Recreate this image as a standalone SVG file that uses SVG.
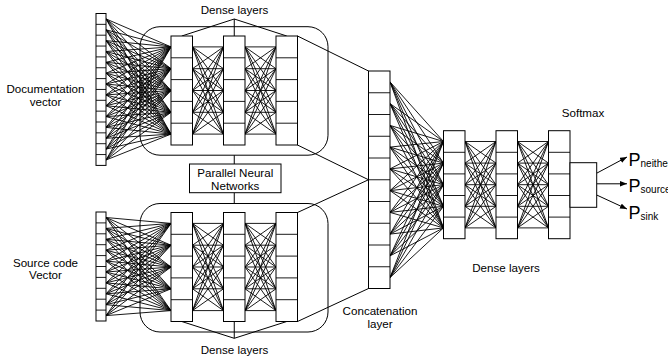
<svg xmlns="http://www.w3.org/2000/svg" xmlns:xlink="http://www.w3.org/1999/xlink" width="668" height="360" viewBox="0 0 668 360">
<style>
text{font-family:"Liberation Sans",Arial,sans-serif;font-size:11.6px;fill:#000}
.lbl{text-anchor:middle}
.ln{fill:none;stroke:#000;stroke-width:0.9}
.box{fill:#fff;stroke:#000;stroke-width:1}
.grp{fill:none;stroke:#000;stroke-width:1}
.P{font-size:18px}
.sub{font-size:10px}
</style>
<defs>
<marker id="arr" markerUnits="userSpaceOnUse" markerWidth="7" markerHeight="6" refX="7" refY="3" orient="auto">
<path d="M0 0.3L7 3L0 5.7z" fill="#000"/>
</marker>
<path id="mesh" class="ln" d="M0 0L31 0M0 0L31 21.8M0 0L31 43.6M0 0L31 65.4M0 0L31 87.2M0 21.8L31 0M0 21.8L31 21.8M0 21.8L31 43.6M0 21.8L31 65.4M0 21.8L31 87.2M0 43.6L31 0M0 43.6L31 21.8M0 43.6L31 43.6M0 43.6L31 65.4M0 43.6L31 87.2M0 65.4L31 0M0 65.4L31 21.8M0 65.4L31 43.6M0 65.4L31 65.4M0 65.4L31 87.2M0 87.2L31 0M0 87.2L31 21.8M0 87.2L31 43.6M0 87.2L31 65.4M0 87.2L31 87.2"/>
<g id="col">
<rect class="box" x="0" y="0" width="21.5" height="109"/>
<path class="ln" d="M0 21.8H21.5M0 43.6H21.5M0 65.4H21.5M0 87.2H21.5"/>
</g>
<g id="colR">
<rect class="box" x="0" y="0" width="21.5" height="108"/>
<path class="ln" d="M0 21.6H21.5M0 43.2H21.5M0 64.8H21.5M0 86.4H21.5"/>
</g>
</defs>

<g id="connectors">
<path class="ln" d="M106 18.9L171 46.9M106 18.9L171 68.7M106 18.9L171 90.5M106 18.9L171 112.3M106 18.9L171 134.1M106 29.8L171 46.9M106 29.8L171 68.7M106 29.8L171 90.5M106 29.8L171 112.3M106 29.8L171 134.1M106 40.6L171 46.9M106 40.6L171 68.7M106 40.6L171 90.5M106 40.6L171 112.3M106 40.6L171 134.1M106 51.5L171 46.9M106 51.5L171 68.7M106 51.5L171 90.5M106 51.5L171 112.3M106 51.5L171 134.1M106 62.3L171 46.9M106 62.3L171 68.7M106 62.3L171 90.5M106 62.3L171 112.3M106 62.3L171 134.1M106 73.2L171 46.9M106 73.2L171 68.7M106 73.2L171 90.5M106 73.2L171 112.3M106 73.2L171 134.1M106 84L171 46.9M106 84L171 68.7M106 84L171 90.5M106 84L171 112.3M106 84L171 134.1M106 94.9L171 46.9M106 94.9L171 68.7M106 94.9L171 90.5M106 94.9L171 112.3M106 94.9L171 134.1M106 105.7L171 46.9M106 105.7L171 68.7M106 105.7L171 90.5M106 105.7L171 112.3M106 105.7L171 134.1M106 116.6L171 46.9M106 116.6L171 68.7M106 116.6L171 90.5M106 116.6L171 112.3M106 116.6L171 134.1M106 127.4L171 46.9M106 127.4L171 68.7M106 127.4L171 90.5M106 127.4L171 112.3M106 127.4L171 134.1M106 138.3L171 46.9M106 138.3L171 68.7M106 138.3L171 90.5M106 138.3L171 112.3M106 138.3L171 134.1M106 149.1L171 46.9M106 149.1L171 68.7M106 149.1L171 90.5M106 149.1L171 112.3M106 149.1L171 134.1M106 160L171 46.9M106 160L171 68.7M106 160L171 90.5M106 160L171 112.3M106 160L171 134.1"/>
<path class="ln" d="M106 217.5L171 223.4M106 217.5L171 245.2M106 217.5L171 267M106 217.5L171 288.8M106 217.5L171 310.6M106 228.4L171 223.4M106 228.4L171 245.2M106 228.4L171 267M106 228.4L171 288.8M106 228.4L171 310.6M106 239.3L171 223.4M106 239.3L171 245.2M106 239.3L171 267M106 239.3L171 288.8M106 239.3L171 310.6M106 250.2L171 223.4M106 250.2L171 245.2M106 250.2L171 267M106 250.2L171 288.8M106 250.2L171 310.6M106 261.1L171 223.4M106 261.1L171 245.2M106 261.1L171 267M106 261.1L171 288.8M106 261.1L171 310.6M106 272L171 223.4M106 272L171 245.2M106 272L171 267M106 272L171 288.8M106 272L171 310.6M106 282.9L171 223.4M106 282.9L171 245.2M106 282.9L171 267M106 282.9L171 288.8M106 282.9L171 310.6M106 293.8L171 223.4M106 293.8L171 245.2M106 293.8L171 267M106 293.8L171 288.8M106 293.8L171 310.6M106 304.7L171 223.4M106 304.7L171 245.2M106 304.7L171 267M106 304.7L171 288.8M106 304.7L171 310.6M106 315.6L171 223.4M106 315.6L171 245.2M106 315.6L171 267M106 315.6L171 288.8M106 315.6L171 310.6"/>
<path class="ln" d="M390 81.9L443.5 141.5M390 81.9L443.5 163.1M390 81.9L443.5 184.7M390 81.9L443.5 206.3M390 81.9L443.5 227.9M390 103.6L443.5 141.5M390 103.6L443.5 163.1M390 103.6L443.5 184.7M390 103.6L443.5 206.3M390 103.6L443.5 227.9M390 125.4L443.5 141.5M390 125.4L443.5 163.1M390 125.4L443.5 184.7M390 125.4L443.5 206.3M390 125.4L443.5 227.9M390 147.1L443.5 141.5M390 147.1L443.5 163.1M390 147.1L443.5 184.7M390 147.1L443.5 206.3M390 147.1L443.5 227.9M390 168.9L443.5 141.5M390 168.9L443.5 163.1M390 168.9L443.5 184.7M390 168.9L443.5 206.3M390 168.9L443.5 227.9M390 190.6L443.5 141.5M390 190.6L443.5 163.1M390 190.6L443.5 184.7M390 190.6L443.5 206.3M390 190.6L443.5 227.9M390 212.4L443.5 141.5M390 212.4L443.5 163.1M390 212.4L443.5 184.7M390 212.4L443.5 206.3M390 212.4L443.5 227.9M390 234.1L443.5 141.5M390 234.1L443.5 163.1M390 234.1L443.5 184.7M390 234.1L443.5 206.3M390 234.1L443.5 227.9M390 255.9L443.5 141.5M390 255.9L443.5 163.1M390 255.9L443.5 184.7M390 255.9L443.5 206.3M390 255.9L443.5 227.9M390 277.6L443.5 141.5M390 277.6L443.5 163.1M390 277.6L443.5 184.7M390 277.6L443.5 206.3M390 277.6L443.5 227.9"/>
<use xlink:href="#mesh" href="#mesh" x="192.5" y="46.9"/>
<use xlink:href="#mesh" href="#mesh" x="245" y="46.9"/>
<use xlink:href="#mesh" href="#mesh" x="192.5" y="223.4"/>
<use xlink:href="#mesh" href="#mesh" x="245" y="223.4"/>
<use xlink:href="#mesh" href="#mesh" transform="translate(465 141.5) scale(1 0.9908)"/>
<use xlink:href="#mesh" href="#mesh" transform="translate(517.5 141.5) scale(1 0.9908)"/>
<path class="grp" d="M297.5 36L368.5 71M297.5 145L368.5 179.75M297.5 212.5L368.5 179.75M297.5 321.5L368.5 288.5"/>
<path class="grp" d="M234.25 19L181.75 36M234.25 19V36M234.25 19L286.75 36M234.25 338.3L181.75 321.5M234.25 338.3V321.5M234.25 338.3L286.75 321.5M234.25 155.2V164M234.25 192.7V203.5"/>
<path class="grp" marker-end="url(#arr)" d="M596.7 173.2L627 157"/>
<path class="grp" marker-end="url(#arr)" d="M596.7 183.8L627 183.8"/>
<path class="grp" marker-end="url(#arr)" d="M596.7 195L627 209"/>
</g>

<g id="doc-vector">
<rect class="box" x="96" y="13.5" width="10" height="151.9"/>
<path class="ln" d="M96 24.35H106M96 35.2H106M96 46.05H106M96 56.9H106M96 67.75H106M96 78.6H106M96 89.45H106M96 100.3H106M96 111.15H106M96 122H106M96 132.85H106M96 143.7H106M96 154.55H106"/>
<text class="lbl" x="45.5" y="92.5">Documentation</text>
<text class="lbl" x="45.5" y="105.5">vector</text>
</g>

<g id="source-vector">
<rect class="box" x="96" y="212" width="10" height="109"/>
<path class="ln" d="M96 222.9H106M96 233.8H106M96 244.7H106M96 255.6H106M96 266.5H106M96 277.4H106M96 288.3H106M96 299.2H106M96 310.1H106"/>
<text class="lbl" x="45.5" y="266.7">Source code</text>
<text class="lbl" x="45.5" y="279.3">Vector</text>
</g>

<g id="dense-top">
<rect class="grp" x="140" y="26.7" width="188" height="128.5" rx="20" ry="20"/>
<use xlink:href="#col" href="#col" x="171" y="36"/>
<use xlink:href="#col" href="#col" x="223.5" y="36"/>
<use xlink:href="#col" href="#col" x="276" y="36"/>
<text class="lbl" x="234.5" y="14">Dense layers</text>
</g>

<g id="dense-bottom">
<rect class="grp" x="140" y="203.5" width="188" height="128.5" rx="20" ry="20"/>
<use xlink:href="#col" href="#col" x="171" y="212.5"/>
<use xlink:href="#col" href="#col" x="223.5" y="212.5"/>
<use xlink:href="#col" href="#col" x="276" y="212.5"/>
<text class="lbl" x="234.5" y="354">Dense layers</text>
</g>

<g id="parallel">
<rect class="box" x="189.5" y="164" width="91.5" height="28.7"/>
<text class="lbl" x="235.25" y="177">Parallel Neural</text>
<text class="lbl" x="235.25" y="189.5">Networks</text>
</g>

<g id="concat">
<rect class="box" x="368.5" y="71" width="21.5" height="217.5"/>
<path class="ln" d="M368.5 92.75H390M368.5 114.5H390M368.5 136.25H390M368.5 158H390M368.5 179.75H390M368.5 201.5H390M368.5 223.25H390M368.5 245H390M368.5 266.75H390"/>
<text class="lbl" x="380" y="315">Concatenation</text>
<text class="lbl" x="380" y="327.5">layer</text>
</g>

<g id="dense-right">
<use xlink:href="#colR" href="#colR" x="443.5" y="130.7"/>
<use xlink:href="#colR" href="#colR" x="496" y="130.7"/>
<use xlink:href="#colR" href="#colR" x="548.5" y="130.7"/>
<text class="lbl" x="506" y="271.5">Dense layers</text>
</g>

<g id="softmax">
<rect class="box" x="570" y="162.7" width="26.7" height="44.6"/>
<text class="lbl" x="583" y="117">Softmax</text>
</g>

<g id="outputs">
<text x="628.5" y="166"><tspan class="P">P</tspan><tspan class="sub" dy="1">neither</tspan></text>
<text x="628.5" y="191.5"><tspan class="P">P</tspan><tspan class="sub" dy="1">source</tspan></text>
<text x="628.5" y="218.5"><tspan class="P">P</tspan><tspan class="sub" dy="1">sink</tspan></text>
</g>
</svg>
